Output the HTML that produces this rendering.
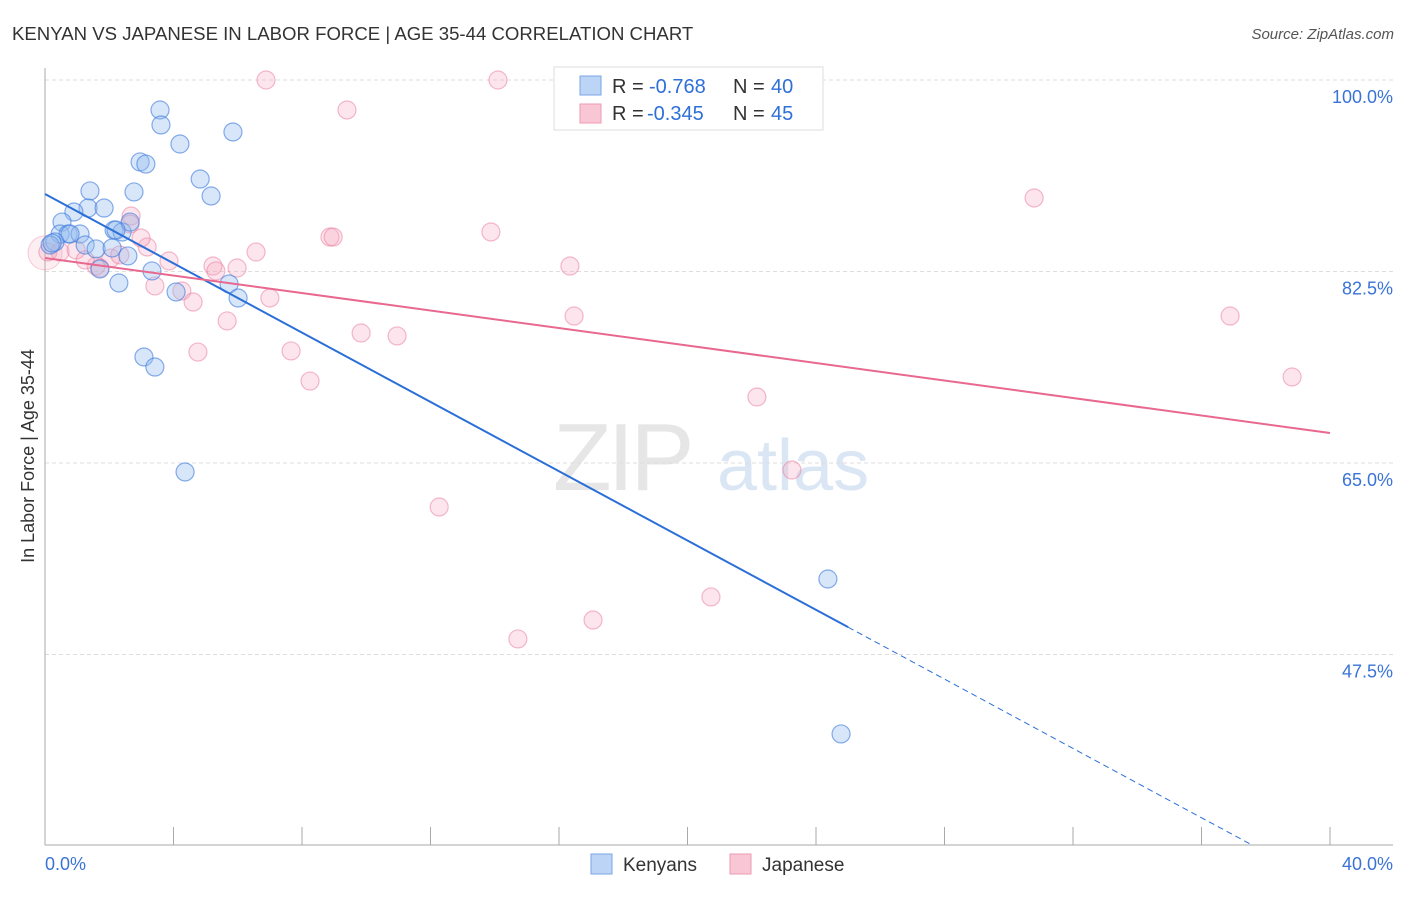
<!DOCTYPE html>
<html><head><meta charset="utf-8"><style>
body{margin:0;background:#fff;font-family:"Liberation Sans",sans-serif;}
svg text{font-family:"Liberation Sans",sans-serif;}
</style></head><body>
<svg id="chart" width="1406" height="892" xmlns="http://www.w3.org/2000/svg">
<text x="12" y="40" font-size="18.6" fill="#333">KENYAN VS JAPANESE IN LABOR FORCE | AGE 35-44 CORRELATION CHART</text>
<text x="1394" y="39" font-size="15" fill="#555" text-anchor="end" font-style="italic">Source: ZipAtlas.com</text>
<g>
<text x="553" y="490" font-size="96" fill="#e6e6e6" font-family="Liberation Serif" letter-spacing="-4">ZIP</text>
<text x="717" y="490" font-size="72" fill="#dbe6f5">atlas</text>
</g>
<g id="grid"></g>
<g id="axes"></g>
<g id="marks"></g>
<text transform="translate(34,456) rotate(-90)" font-size="18" fill="#333" text-anchor="middle">In Labor Force | Age 35-44</text>
<g>
<rect x="554" y="67" width="269" height="63" fill="#fff" stroke="#ddd"/>
<rect x="580" y="76" width="21" height="19" fill="#bcd4f5" stroke="#7aa6e6"/>
<rect x="580" y="104" width="21" height="19" fill="#f9c6d5" stroke="#ee9ab3"/>
<g font-size="20">
<text x="612" y="93" fill="#333">R =</text><text x="649" y="93" fill="#2e6fd8">-0.768</text>
<text x="733" y="93" fill="#333">N =</text><text x="771" y="93" fill="#2e6fd8">40</text></g>
<g font-size="20">
<text x="612" y="120" fill="#333">R =</text><text x="647" y="120" fill="#2e6fd8">-0.345</text>
<text x="733" y="120" fill="#333">N =</text><text x="771" y="120" fill="#2e6fd8">45</text></g>
</g>
<g>
<rect x="591" y="854" width="21" height="20" fill="#bcd4f5" stroke="#7aa6e6"/>
<text x="623" y="871" font-size="19" fill="#333">Kenyans</text>
<rect x="730" y="854" width="21" height="20" fill="#f9c6d5" stroke="#ee9ab3"/>
<text x="762" y="871" font-size="19" fill="#333">Japanese</text>
</g>
</svg>
<script>
const yTicks=[100,82.5,65,47.5];
const yTickLabels=["100.0%","82.5%","65.0%","47.5%"];
const xTickLabels=["0.0%","40.0%"];
const kenX=[3.58,3.61,4.20,5.85,2.96,3.14,4.83,5.17,2.77,1.40,1.34,1.84,0.90,0.53,0.47,0.72,1.09,2.15,2.40,2.65,0.31,1.25,1.59,2.09,2.58,1.71,3.33,2.30,4.08,5.73,6.01,3.08,3.42,4.36,24.37,24.78,0.16,0.78,0.22,2.21];
const kenY=[97.26,95.89,94.15,95.25,92.51,92.32,90.95,89.40,89.77,89.86,88.30,88.30,87.94,87.02,85.93,85.93,85.93,86.29,86.11,87.02,85.20,84.92,84.56,84.65,83.92,82.73,82.55,81.45,80.63,81.36,80.08,74.69,73.77,64.18,54.40,40.24,84.92,85.93,85.10,86.29];
const japX=[6.88,14.10,9.40,30.79,2.68,2.65,13.88,8.87,8.97,3.18,6.57,2.99,3.86,5.23,5.98,16.34,5.32,1.59,0.09,0.47,0.97,2.05,3.42,4.26,4.61,7.00,5.67,16.47,36.89,9.84,10.96,4.76,7.66,8.25,38.82,22.16,23.25,12.27,20.73,17.06,14.72,2.33,1.25,1.71];
const japY=[100,100,97.26,89.22,87.57,86.84,86.11,85.65,85.65,84.74,84.28,85.56,83.46,83.00,82.82,83.00,82.55,83.00,84.28,84.28,84.47,83.73,81.18,80.72,79.71,80.08,77.98,78.43,78.43,76.88,76.61,75.14,75.24,72.49,72.86,71.03,64.36,60.98,52.76,50.65,48.92,84.01,83.55,82.82];
const kenTrend=[89.58,26.25];
const japTrend=[83.73,67.74];
const kenSolidEnd=25, kenDashEnd=37.5;

const NS="http://www.w3.org/2000/svg";
const X=v=>45+v/40*1285;
const Y=v=>80+(100-v)/17.5*191.5;
function mk(tag,attrs,parent){const e=document.createElementNS(NS,tag);for(const k in attrs)e.setAttribute(k,attrs[k]);parent.appendChild(e);return e;}
const grid=document.getElementById('grid'),axes=document.getElementById('axes'),marks=document.getElementById('marks');
yTicks.forEach((t,i)=>{
 const l=mk('line',{x1:45,x2:1393,y1:Y(t),y2:Y(t),stroke:'#ddd','stroke-dasharray':'4,3'},grid);
 
 
 const tx=mk('text',{x:1393,y:Y(t)+23,'font-size':18,fill:'#3a73d6','text-anchor':'end'},axes);
 tx.textContent=yTickLabels[i];
 
 
});
const ax=mk('line',{x1:45,x2:45,y1:68,y2:845,stroke:'#aaa'},axes);


const bx=mk('line',{x1:45,x2:1393,y1:845,y2:845,stroke:'#aaa'},axes);


for(let i=0;i<=10;i++){
 const t=mk('line',{x1:X(i*4),x2:X(i*4),y1:827,y2:845,stroke:'#aaa'},axes);
 
 
}
[[0,'start',45],[40,'end',1393]].forEach((a,i)=>{
 const t=mk('text',{x:a[2],y:870,'font-size':18,fill:'#3a73d6','text-anchor':a[1]},axes);
 t.textContent=xTickLabels[i];
 
 
});
const b1=mk('circle',{cx:X(0),cy:Y(84.2),r:17,fill:'rgba(244,160,185,0.18)',stroke:'rgba(236,130,160,0.4)'},marks);


japX.forEach((v,i)=>{
 const c=mk('circle',{cx:X(v),cy:Y(japY[i]),r:9,fill:'rgba(246,170,192,0.3)',stroke:'rgba(234,120,155,0.5)','stroke-width':1.2},marks);
 
 
});
kenX.forEach((v,i)=>{
 const c=mk('circle',{cx:X(v),cy:Y(kenY[i]),r:9,fill:'rgba(150,190,240,0.38)',stroke:'rgba(60,120,220,0.6)','stroke-width':1.2},marks);
 
 
});
const kY=x=>kenTrend[0]+(kenTrend[1]-kenTrend[0])*x/40;
const l1=mk('line',{x1:X(0),y1:Y(kY(0)),x2:X(kenSolidEnd),y2:Y(kY(kenSolidEnd)),stroke:'#2a6fd8','stroke-width':2},marks);


const l2=mk('line',{x1:X(kenSolidEnd),y1:Y(kY(kenSolidEnd)),x2:X(kenDashEnd),y2:Y(kY(kenDashEnd)),stroke:'#2a6fd8','stroke-width':1,'stroke-dasharray':'6,4'},marks);


const l3=mk('line',{x1:X(0),y1:Y(japTrend[0]),x2:X(40),y2:Y(japTrend[1]),stroke:'#e8688f','stroke-width':2},marks);


</script>
</body></html>
